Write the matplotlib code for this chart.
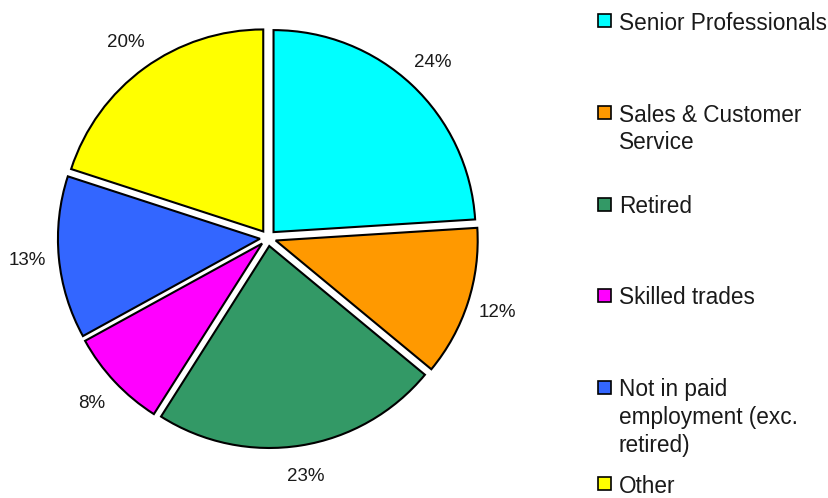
import matplotlib.pyplot as plt
from matplotlib.patches import Rectangle

plt.rcParams['font.family'] = ['Liberation Sans', 'DejaVu Sans']

# occupation shares (percent)
categories = ["Senior Professionals", "Sales & Customer\nService", "Retired",
              "Skilled trades", "Not in paid\nemployment (exc.\nretired)", "Other"]
shares = [24, 12, 23, 8, 13, 20]
colors = ["#00FFFF", "#FF9900", "#339966", "#FF00FF", "#3366FF", "#FFFF00"]

W, H = 829, 498
fig = plt.figure(figsize=(W / 100, H / 100), dpi=100)

# pie axes: centre around (268, 238) px, radius ~202 px
half = 215
ax = fig.add_axes([(268 - half) / W, (H - 238 - half) / H, 2 * half / W, 2 * half / H])

wedges, texts, autotexts = ax.pie(
    shares, colors=colors, startangle=90, counterclock=False,
    explode=[0.04] * len(shares), autopct='%d%%', pctdistance=1.155,
    wedgeprops=dict(edgecolor='black', linewidth=1.5),
    textprops=dict(fontsize=13.5, color='#1a1a1a'), radius=1.0)

lim = half / 202
ax.set_xlim(-lim, lim)
ax.set_ylim(-lim, lim)
ax.set_aspect('equal')
ax.axis('off')

# legend drawn by hand: one slot per entry, first line aligned to the slot
y0, step = 21, 91.5
for i, (lab, col) in enumerate(zip(categories, colors)):
    y = y0 + i * step
    if i == len(categories) - 1:
        y += 5
    fig.patches.append(Rectangle((598 / W, (H - y - 6.5) / H), 13 / W, 13 / H,
                                 transform=fig.transFigure, facecolor=col,
                                 edgecolor='black', linewidth=1.2))
    fig.text(619 / W, (H - y + 9) / H, lab, fontsize=16.3, color='#1a1a1a',
             va='top', ha='left', linespacing=1.27)

plt.savefig("out.png", dpi=100)
